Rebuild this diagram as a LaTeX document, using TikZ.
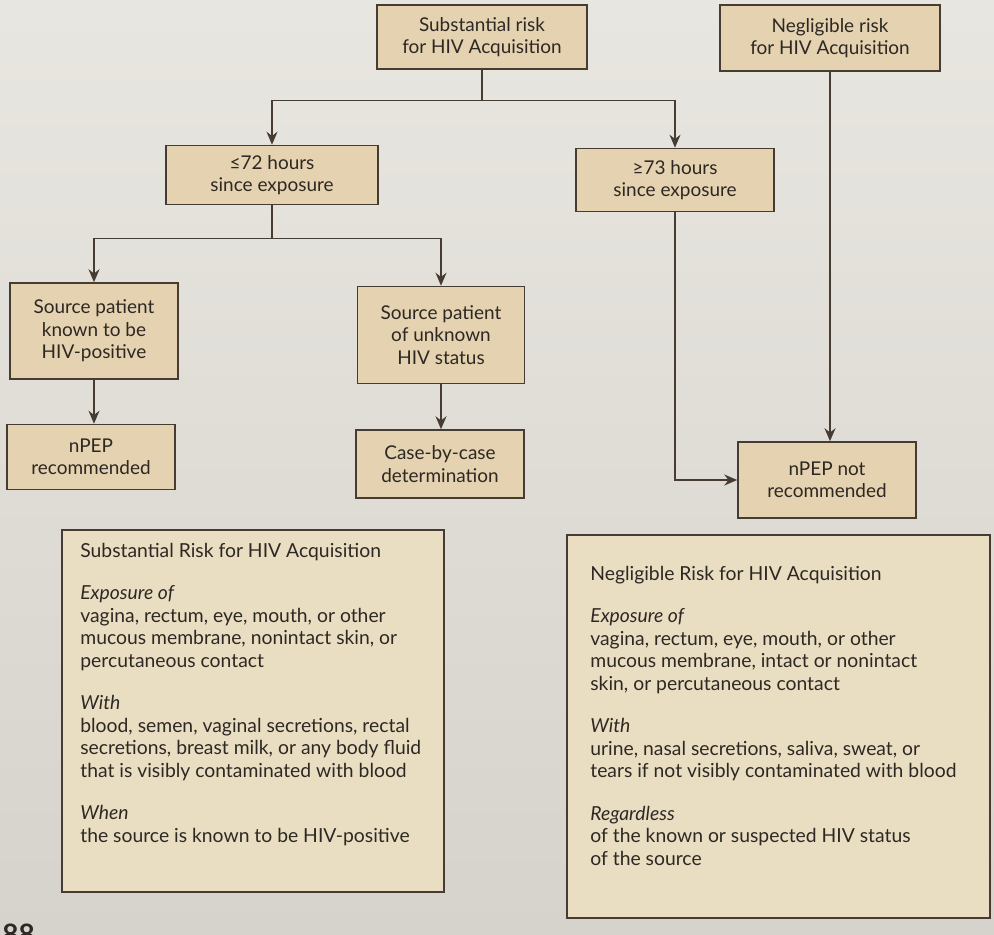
\documentclass[tikz,border=0pt]{standalone}
\usepackage{fontspec}
\setmainfont{Lato}
\usetikzlibrary{arrows.meta}

\definecolor{pagetop}{RGB}{232,230,224}
\definecolor{pagebottom}{RGB}{214,211,204}
\definecolor{boxfill}{RGB}{228,210,176}
\definecolor{infofill}{RGB}{234,222,194}
\definecolor{boxline}{RGB}{70,60,50}
\definecolor{inktext}{RGB}{45,40,35}

\tikzset{
  flowbox/.style={draw=boxline, fill=boxfill, line width=0.9pt, align=center,
    text=inktext, font=\fontsize{10.8}{12.8}\selectfont, inner sep=2pt},
  flowline/.style={draw=boxline, line width=0.8pt},
  flowarrow/.style={flowline, -{Stealth[length=2.6mm,width=2.2mm]}},
  infobox/.style={draw=boxline, fill=infofill, line width=0.9pt},
  infotext/.style={align=left, text=inktext, font=\fontsize{11}{12.8}\selectfont, inner sep=0pt},
}

\begin{document}
\begin{tikzpicture}[x=0.02cm, y=-0.02cm]
            \shade[top color=pagetop, bottom color=pagebottom] (0,0) rectangle (994,934);
            \useasboundingbox (0,0) rectangle (994,934);

            % decision boxes
            \node[flowbox, minimum width=4.2cm, minimum height=1.28cm] (sub) at (482,37) {Substantial risk\\for HIV Acquisition};
            \node[flowbox, minimum width=4.4cm, minimum height=1.32cm] (neg) at (830,38) {Negligible risk\\for HIV Acquisition};
            \node[flowbox, minimum width=4.24cm, minimum height=1.18cm] (h72) at (272,175) {≤72 hours\\since exposure};
            \node[flowbox, minimum width=3.96cm, minimum height=1.26cm] (h73) at (675,180) {≥73 hours\\since exposure};
            \node[flowbox, minimum width=3.36cm, minimum height=1.92cm] (known) at (94,331) {Source patient\\known to be\\HIV-positive};
            \node[flowbox, minimum width=3.34cm, minimum height=1.94cm] (unknown) at (441,335) {Source patient\\of unknown\\HIV status};
            \node[flowbox, minimum width=3.36cm, minimum height=1.3cm] (npep) at (91,457) {nPEP\\recommended};
            \node[flowbox, minimum width=3.36cm, minimum height=1.36cm] (case) at (440,464) {Case-by-case\\determination};
            \node[flowbox, minimum width=3.56cm, minimum height=1.52cm] (npepnot) at (827,480) {nPEP not\\recommended};

            % connectors
            \draw[flowline] (sub.south) -- ++(0,31) coordinate (subsplit);
            \foreach \target in {h72, h73} {
                \draw[flowarrow] (subsplit) -| (\target.north);
            }
            \draw[flowline] (h72.south) -- ++(0,33) coordinate (h72split);
            \foreach \target in {known, unknown} {
                \draw[flowarrow] (h72split) -| (\target.north);
            }
            \draw[flowarrow] (known.south) -- (known.south |- npep.north);
            \draw[flowarrow] (unknown.south) -- (unknown.south |- case.north);
            \draw[flowarrow] (h73.south) |- (npepnot.west);
            \draw[flowarrow] (neg.south) -- (neg.south |- npepnot.north);

            % definition panels
            \draw[infobox] (62,530) rectangle (444,892);
            \node[infotext, anchor=north west] (subinfo) at (80,543) {Substantial Risk for HIV Acquisition\\[11.3pt]
                \textit{Exposure of}\\
                vagina, rectum, eye, mouth, or other\\
                mucous membrane, nonintact skin, or\\
                percutaneous contact\\[11.3pt]
                \textit{With}\\
                blood, semen, vaginal secretions, rectal\\
                secretions, breast milk, or any body fluid\\
                that is visibly contaminated with blood\\[11.3pt]
                \textit{When}\\
                the source is known to be HIV-positive};

            \draw[infobox] (567,535) rectangle (990,918);
            \node[infotext, anchor=north west] (neginfo) at (590,566) {Negligible Risk for HIV Acquisition\\[11.3pt]
                \textit{Exposure of}\\
                vagina, rectum, eye, mouth, or other\\
                mucous membrane, intact or nonintact\\
                skin, or percutaneous contact\\[11.3pt]
                \textit{With}\\
                urine, nasal secretions, saliva, sweat, or\\
                tears if not visibly contaminated with blood\\[11.3pt]
                \textit{Regardless}\\
                of the known or suspected HIV status\\
                of the source};

            \node[anchor=north west, inner sep=0pt, text=inktext, font=\bfseries\fontsize{16}{16}\selectfont] (pagenum) at (2,924) {88};

        \end{tikzpicture}
\end{document}
